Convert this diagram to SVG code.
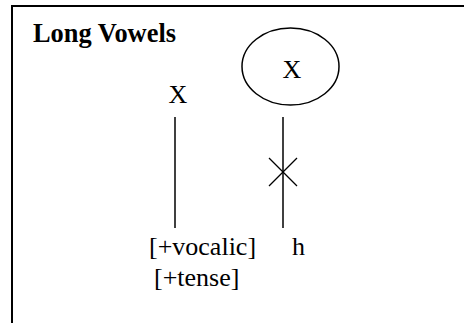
<svg xmlns="http://www.w3.org/2000/svg" width="464" height="323" viewBox="0 0 464 323">
  <style>
    .frame { fill: none; stroke: #000; stroke-width: 2; }
    .lbl { font-family: "Liberation Serif", "Times New Roman", serif; font-size: 26px; fill: #000; }
    .title { font-weight: bold; font-size: 26.4px; }
    .link { stroke: #000; stroke-width: 1.5; fill: none; }
    .cut { stroke: #000; stroke-width: 1.2; fill: none; }
  </style>
  <rect width="464" height="323" fill="#fff"/>
  <!-- open frame: top and left edges only -->
  <path class="frame" d="M12,323 V6 H464"/>
  <text class="lbl title" x="33" y="41.5">Long Vowels</text>

  <g id="connectors">
    <line class="link" x1="175" y1="117" x2="175" y2="228"/>
    <line class="link" x1="283" y1="117" x2="283" y2="228"/>
    <!-- delinking mark -->
    <line class="cut" x1="269" y1="158" x2="297" y2="186"/>
    <line class="cut" x1="297" y1="158" x2="269" y2="186"/>
  </g>

  <g id="x-left">
    <text class="lbl" x="178" y="102.5" text-anchor="middle">X</text>
  </g>
  <g id="x-circled">
    <ellipse cx="290.5" cy="66.5" rx="48.5" ry="38.5" fill="none" stroke="#000" stroke-width="1.5"/>
    <text class="lbl" x="292" y="78" text-anchor="middle">X</text>
  </g>
  <g id="features">
    <text class="lbl" x="149" y="255">[+vocalic]</text>
    <text class="lbl" x="154" y="286">[+tense]</text>
  </g>
  <g id="h">
    <text class="lbl" x="292" y="255">h</text>
  </g>
</svg>
